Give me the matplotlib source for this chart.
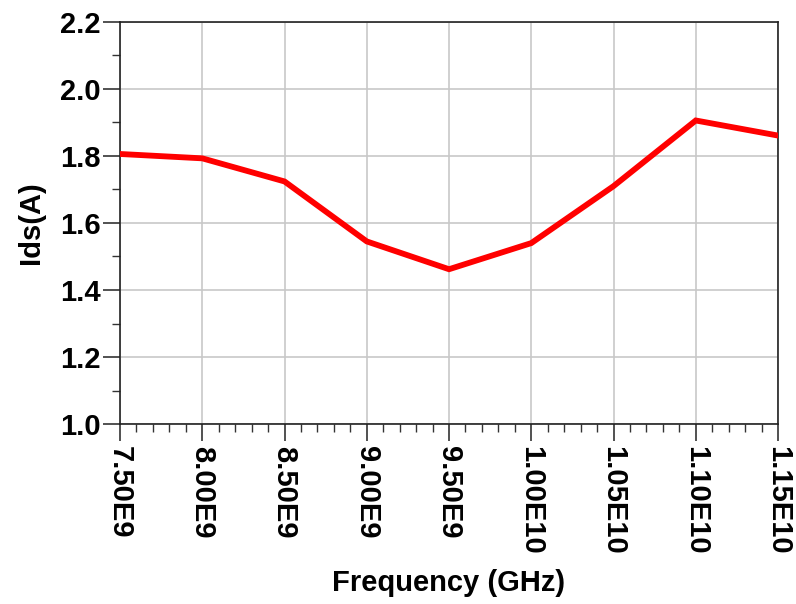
import numpy as np
import matplotlib.pyplot as plt
from matplotlib.ticker import MultipleLocator, FuncFormatter

freq = [7.5e9, 8.0e9, 8.5e9, 9.0e9, 9.5e9, 1.0e10, 1.05e10, 1.1e10, 1.15e10]
ids = [1.806, 1.793, 1.724, 1.545, 1.462, 1.540, 1.710, 1.906, 1.861]

plt.rcParams['font.family'] = ['Liberation Sans', 'DejaVu Sans']
plt.rcParams['font.weight'] = 'bold'

def fmt(x, pos):
	e = int(np.floor(np.log10(x) + 1e-9))
	return '%.2fE%d' % (x / 10**e, e)

fig = plt.figure(figsize=(7.96, 6.04), dpi=100)
ax = fig.add_axes([0.1508, 0.298, 0.8266, 0.6656])
ax.plot(freq, ids, color='#ff0000', lw=4.2, solid_joinstyle='miter', zorder=3)
ax.set_xlim(7.5e9, 1.15e10)
ax.set_ylim(1.0, 2.2)
ax.xaxis.set_major_locator(MultipleLocator(0.5e9))
ax.xaxis.set_minor_locator(MultipleLocator(0.1e9))
ax.yaxis.set_major_locator(MultipleLocator(0.2))
ax.yaxis.set_minor_locator(MultipleLocator(0.1))
ax.xaxis.set_major_formatter(FuncFormatter(fmt))
ax.yaxis.set_major_formatter(FuncFormatter(lambda y, p: '%.1f' % y))
ax.grid(True, which='major', color='#c8c8c8', lw=1.2)
ax.tick_params(which='major', length=12, width=1.2, labelsize=21, color='#333333', pad=2)
ax.tick_params(which='minor', length=6, width=1.0, color='#333333')
ax.tick_params(axis='x', which='major', pad=4)
for lab in ax.get_xticklabels():
	lab.set_rotation(270)
	lab.set_fontweight('bold')
for lab in ax.get_yticklabels():
	lab.set_fontweight('bold')
for s in ax.spines.values():
	s.set_linewidth(1.2)
	s.set_color('#222222')
ax.set_xlabel('Frequency (GHz)', fontsize=21, fontweight='bold', labelpad=10)
ax.set_ylabel('Ids(A)', fontsize=21, fontweight='bold', labelpad=11)
plt.savefig('out.png', dpi=100)
plt.close()
